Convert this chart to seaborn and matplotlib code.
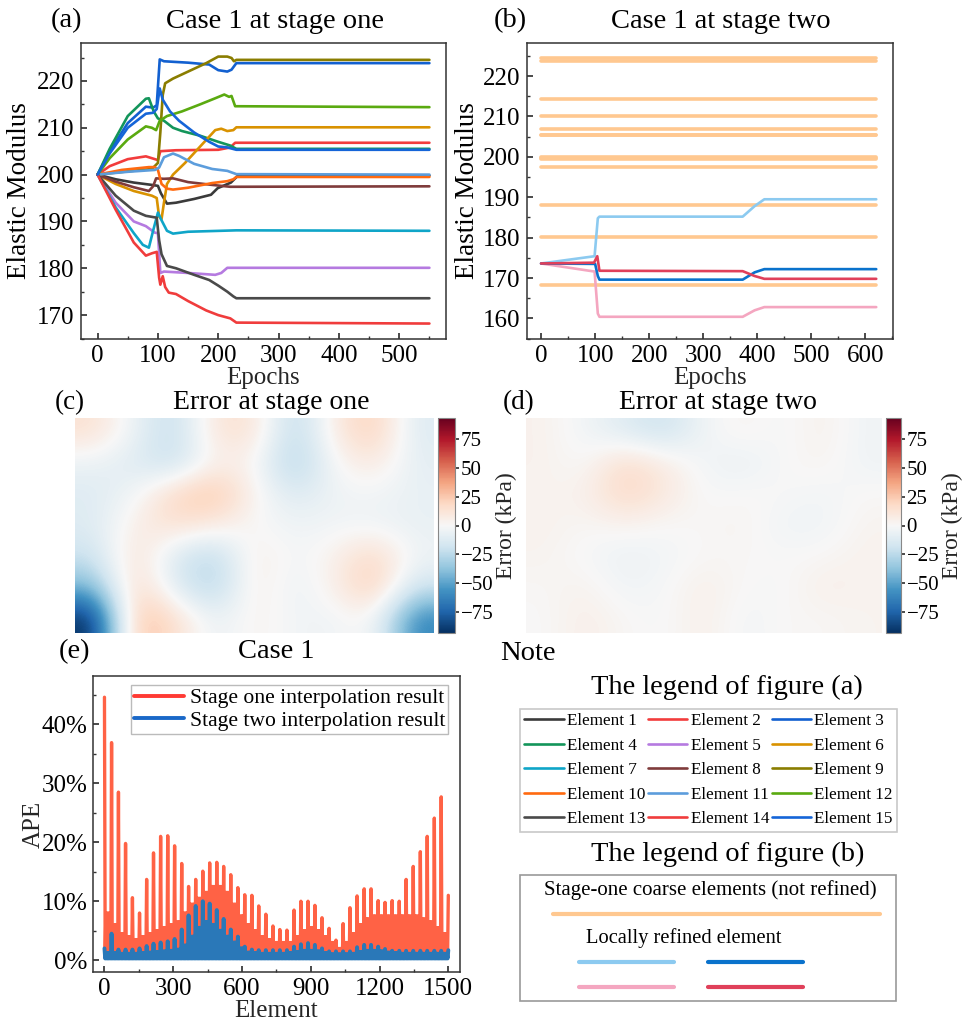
import numpy as np
import pandas as pd
import matplotlib
matplotlib.use("Agg")
import matplotlib.pyplot as plt
import seaborn as sns
from matplotlib.lines import Line2D
from matplotlib.patches import Rectangle
from matplotlib.ticker import MultipleLocator, FuncFormatter

# ---------------- (a) stage one training curves (epoch, modulus) ----------------
el01_x = [0, 30, 60, 90, 100, 105, 115, 130, 160, 188, 199, 221, 232, 550]
el01_y = [200, 199, 198.3, 197.8, 197.6, 196, 193.8, 194, 194.8, 195.7, 197.1, 198.3, 199.7, 199.8]
el02_x = [0, 20, 50, 80, 95, 100, 104, 130, 200, 220, 228, 550]
el02_y = [200, 201.8, 203.3, 203.9, 203.3, 203.1, 205, 205.2, 205.3, 205.8, 206.8, 206.8]
el03_x = [0, 20, 50, 80, 92, 98, 103, 110, 150, 185, 200, 215, 222, 230, 550]
el03_y = [200, 205, 211, 214.5, 214.3, 214.8, 224.6, 224.2, 223.9, 223.5, 222.3, 222, 222.4, 223.8, 223.8]
el04_x = [0, 20, 50, 80, 85, 93, 100, 110, 125, 140, 170, 200, 220, 230, 550]
el04_y = [200, 205.5, 212.5, 216.2, 216.3, 213.5, 212, 211.5, 210, 209.3, 208.3, 207, 206.2, 205.5, 205.5]
el05_x = [0, 30, 60, 80, 95, 100, 104, 110, 150, 195, 205, 215, 550]
el05_y = [200, 194, 190, 189, 187.6, 187.5, 179, 179.3, 179, 178.6, 179, 180.1, 180.1]
el06_x = [0, 30, 60, 90, 98, 102, 106, 110, 115, 125, 145, 170, 195, 205, 215, 225, 230, 550]
el06_y = [200, 198, 196.5, 195.5, 195, 191, 190.5, 194, 198, 200, 202.5, 206, 209.5, 209.8, 209.3, 209.5, 210.1, 210.1]
el07_x = [0, 30, 60, 75, 85, 92, 100, 105, 115, 125, 150, 230, 550]
el07_y = [200, 193, 187.5, 185, 184.4, 188, 191.9, 190.5, 188, 187.4, 187.8, 188.1, 188]
el08_x = [0, 30, 60, 85, 92, 97, 110, 125, 150, 190, 220, 550]
el08_y = [200, 198.5, 197.3, 196.5, 197.5, 199.2, 199.1, 199.2, 198.4, 197.8, 197.4, 197.5]
el09_x = [0, 50, 90, 100, 104, 108, 112, 125, 150, 180, 200, 215, 222, 226, 230, 550]
el09_y = [200, 200.7, 201.2, 202.5, 209, 217, 219.5, 220.5, 222, 223.8, 225.2, 225.2, 224.9, 224.2, 224.5, 224.5]
el10_x = [0, 40, 85, 95, 100, 106, 115, 125, 150, 190, 215, 225, 230, 550]
el10_y = [200, 201, 201.6, 201.6, 201, 198, 197, 196.8, 197.2, 198.2, 198.6, 199, 199.5, 199.5]
el11_x = [0, 50, 95, 102, 110, 125, 135, 160, 190, 215, 230, 550]
el11_y = [200, 200.6, 201, 201.5, 203.7, 204.5, 204, 202.3, 201.2, 200.8, 200.1, 200]
el12_x = [0, 20, 50, 80, 90, 97, 103, 115, 140, 170, 195, 210, 218, 222, 228, 550]
el12_y = [200, 203.5, 207.5, 210.3, 210, 209.5, 211.5, 212.5, 213.5, 215, 216.3, 217.1, 216.6, 216.8, 214.6, 214.4]
el13_x = [0, 30, 60, 80, 98, 102, 106, 115, 130, 160, 185, 200, 215, 225, 230, 550]
el13_y = [200, 195.5, 192.3, 191.2, 190.8, 186, 183, 180.5, 180, 178.6, 177.5, 176.3, 175, 174, 173.6, 173.6]
el14_x = [0, 30, 60, 80, 90, 98, 102, 104, 108, 112, 118, 130, 150, 180, 200, 220, 230, 550]
el14_y = [200, 192.5, 185.5, 182.7, 183.2, 183.5, 178, 176.5, 178.3, 176, 174.8, 174.5, 173, 171, 170, 169.3, 168.4, 168.2]
el15_x = [0, 20, 50, 80, 92, 98, 103, 108, 120, 135, 160, 185, 200, 215, 230, 550]
el15_y = [200, 204.5, 210, 213, 213.2, 214, 218.4, 216, 213.5, 211.5, 209, 207, 206, 205.8, 205.3, 205.3]

element_names = [f"Element {i}" for i in range(1, 16)]
element_colors = ["#3a3a3a", "#f23c3c", "#1260d0", "#13955a", "#b57ae0", "#d99200",
                  "#0fa5c8", "#7f3b3b", "#8a7d00", "#ff6a10", "#5c9ddc", "#5aaa10",
                  "#4a4a4a", "#f03c3c", "#1565d8"]

# ---------------- (b) stage two ----------------
coarse_epochs = [0, 620]
coarse_values = [224.5, 223.8, 214.4, 210.1, 206.8, 205.5, 205.3, 200.0, 199.8,
                 199.5, 197.5, 188.0, 180.1, 168.2]
ref_lblue_x = [0, 99, 105, 108, 373, 395, 413, 620]
ref_lblue_y = [173.6, 175.4, 184.8, 185.2, 185.2, 187.8, 189.5, 189.5]
ref_blue_x = [0, 100, 105, 108, 373, 395, 413, 620]
ref_blue_y = [173.6, 173.5, 170.5, 169.6, 169.6, 171.4, 172.2, 172.2]
ref_pink_x = [0, 99, 105, 108, 373, 395, 413, 620]
ref_pink_y = [173.6, 171.6, 161.2, 160.4, 160.4, 162.0, 162.8, 162.8]
ref_red_x = [0, 98, 104, 108, 373, 395, 413, 620]
ref_red_y = [173.6, 173.8, 175.4, 171.8, 171.7, 170.5, 169.8, 169.8]
refined_colors = ["#8ccaf0", "#0a72cc", "#f4a6c0", "#e0405a"]
coarse_color = "#ffc890"

# ---------------- (c)/(d) error fields, kPa (coarse grid) ----------------
err_stage_one = [
    [14, -6, -24, 12, 14, -28, 8, 24, -12],
    [-6, -12, -22, 5, 2, -32, 0, 10, -9],
    [-12, -3, 20, 30, 3, -14, -4, -3, -7],
    [-12, 6, 15, 8, 0, -4, -3, -4, -7],
    [-20, 16, -14, -28, 8, -3, 4, 20, -4],
    [-42, 22, -12, -30, 9, -7, 5, 26, -18],
    [-95, 32, 16, -8, 4, -3, -4, 3, -62],
]
err_stage_two = [
    [4, -3, -12, -20, -3, 3, -2, 5, -4],
    [4, -1, 18, 8, -3, -7, 0, 3, -4],
    [3, 4, 20, 10, -1, 1, 0, -3, 1],
    [4, 1, 3, 0, 1, 3, -4, -4, 3],
    [3, -1, -6, -3, 1, 1, 0, 1, 4],
    [1, 4, -4, -1, 6, 0, -1, 6, 3],
    [0, 6, 1, -1, 6, -3, 1, 1, 3],
]
cbar_ticks = [-75, -50, -25, 0, 25, 50, 75]

# ---------------- (e) APE per element ----------------
block_start = [0, 31, 61, 92, 122, 153, 184, 214, 245, 276, 306, 337, 367, 398, 429,
               459, 490, 520, 551, 582, 612, 643, 673, 704, 735, 765, 796, 827, 857,
               888, 918, 949, 980, 1010, 1041, 1071, 1102, 1133, 1163, 1194, 1224,
               1255, 1286, 1316, 1347, 1378, 1408, 1439, 1469, 1500]
ape_one_peak = [44.6, 36.9, 28.5, 19.8, 10.6, 8.0, 13.7, 18.2, 21.0, 21.1, 19.4, 16.4,
                12.5, 13.7, 15.1, 16.5, 16.6, 15.9, 14.5, 12.3, 11.1, 11.0, 9.2, 7.8,
                5.8, 5.2, 5.1, 8.5, 10.0, 10.0, 9.3, 7.2, 5.4, 3.4, 6.2, 8.9, 10.9,
                12.1, 12.1, 10.1, 9.8, 10.1, 10.0, 13.7, 15.9, 18.4, 21.0, 24.1, 27.7, 11.0]
ape_one_body = [8, 6, 4.5, 4, 3.5, 4, 4.5, 5, 5.5, 6, 6.5, 8, 9.5, 10.5, 11.5, 12.5,
                12.5, 11.5, 9.5, 7.5, 6, 5, 4, 3.5, 3, 3, 3, 4, 5, 5.5, 5, 4, 3, 2, 3,
                4.5, 6, 7, 7.5, 7.5, 7.5, 7.5, 7.5, 7.5, 7.5, 7, 6.5, 5.5, 4.5]
ape_two_peak = [2.0, 4.5, 1.8, 1.8, 1.8, 2.0, 2.4, 2.8, 3.0, 3.2, 3.6, 5.2, 7.6, 9.2,
                10.0, 9.6, 8.5, 7.0, 5.2, 4.0, 2.3, 1.8, 1.7, 1.7, 1.7, 1.7, 1.7, 2.3,
                2.7, 2.9, 2.6, 2.0, 1.5, 1.5, 1.5, 1.5, 2.2, 2.6, 2.6, 2.3, 1.9, 1.6,
                1.6, 1.6, 1.6, 1.6, 1.6, 1.6, 1.6, 1.7]
ape_two_body = [1.2, 1.2, 1.1, 1.1, 1.1, 1.2, 1.3, 1.4, 1.5, 1.6, 1.8, 2.5, 4, 5.5,
                6.5, 6, 5, 4, 3, 2, 1.3, 1.2, 1.1, 1.1, 1.1, 1.1, 1.2, 1.4, 1.6, 1.6,
                1.5, 1.2, 1.0, 1.0, 1.0, 1.1, 1.4, 1.6, 1.6, 1.5, 1.3, 1.2, 1.1, 1.1,
                1.1, 1.1, 1.1, 1.1, 1.1]
ape_one_low = 0.8
ape_two_low = 0.3


def saw(starts, peaks, bodies, low):
    # one sharp spike at each block start, then the in-block oscillation
    xs, ys = [], []
    for i, x0 in enumerate(starts):
        xs.append(x0)
        ys.append(peaks[i])
        if i < len(starts) - 1:
            step = (starts[i + 1] - x0) / 10
            for j in range(1, 10):
                xs.append(x0 + j * step)
                ys.append(low if j % 2 else bodies[i])
    return xs, ys


sns.set_theme(style="ticks", rc={
    "axes.edgecolor": "#333333", "axes.linewidth": 1.1,
    "xtick.direction": "in", "ytick.direction": "in",
    "xtick.color": "#333333", "ytick.color": "#333333",
    "xtick.major.size": 4.5, "ytick.major.size": 4.5,
    "xtick.minor.size": 2.5, "ytick.minor.size": 2.5,
})
plt.rcParams["font.family"] = ["Liberation Serif", "DejaVu Serif"]
plt.rcParams["text.color"] = "black"
plt.rcParams["xtick.labelcolor"] = "black"
plt.rcParams["ytick.labelcolor"] = "black"

W, H = 966, 1028
fig = plt.figure(figsize=(W / 100, H / 100), dpi=100)
fig.patch.set_facecolor("white")


def box(l, t, r, b):
    return fig.add_axes([l / W, 1 - b / H, (r - l) / W, (b - t) / H])


def put(x, y, s, size, **kw):
    fig.text(x / W, 1 - y / H, s, ha=kw.pop("ha", "center"), va="center", fontsize=size, **kw)


TICK = 18
LAB = 18
TIT = 20.5

# ---- (a)
ax_a = box(81, 43, 446, 339)
curves = [(el01_x, el01_y), (el02_x, el02_y), (el03_x, el03_y), (el04_x, el04_y),
          (el05_x, el05_y), (el06_x, el06_y), (el07_x, el07_y), (el08_x, el08_y),
          (el09_x, el09_y), (el10_x, el10_y), (el11_x, el11_y), (el12_x, el12_y),
          (el13_x, el13_y), (el14_x, el14_y), (el15_x, el15_y)]
for (xs, ys), c in zip(curves, element_colors):
    sns.lineplot(x=xs, y=ys, ax=ax_a, color=c, lw=1.9, sort=False, estimator=None, legend=False)
ax_a.set_xlim(-27.5, 577.5)
ax_a.set_ylim(164.9, 228.1)
ax_a.xaxis.set_major_locator(MultipleLocator(100))
ax_a.xaxis.set_minor_locator(MultipleLocator(50))
ax_a.yaxis.set_major_locator(MultipleLocator(10))
ax_a.yaxis.set_minor_locator(MultipleLocator(5))
ax_a.tick_params(labelsize=TICK, pad=5)
ax_a.tick_params(axis="x", pad=4)
ax_a.set_xlabel("Epochs", fontsize=LAB, labelpad=0)
ax_a.set_ylabel("")
put(20, 191, "Elastic Modulus", 19.5, rotation=90)
put(66, 21, "(a)", TIT)
put(275, 21, "Case 1 at stage one", TIT)

# ---- (b)
ax_b = box(527, 43, 893, 339)
for v in coarse_values:
    sns.lineplot(x=coarse_epochs, y=[v, v], ax=ax_b, color=coarse_color, lw=2.6,
                 estimator=None, legend=False)
for (xs, ys), c in zip([(ref_lblue_x, ref_lblue_y), (ref_pink_x, ref_pink_y),
                        (ref_blue_x, ref_blue_y), (ref_red_x, ref_red_y)],
                       [refined_colors[0], refined_colors[2], refined_colors[1], refined_colors[3]]):
    sns.lineplot(x=xs, y=ys, ax=ax_b, color=c, lw=1.9, sort=False, estimator=None, legend=False)
ax_b.set_xlim(-26, 651)
ax_b.set_ylim(154.9, 228.2)
ax_b.xaxis.set_major_locator(MultipleLocator(100))
ax_b.xaxis.set_minor_locator(MultipleLocator(50))
ax_b.yaxis.set_major_locator(MultipleLocator(10))
ax_b.yaxis.set_minor_locator(MultipleLocator(5))
ax_b.tick_params(labelsize=TICK, pad=5)
ax_b.tick_params(axis="x", pad=4)
ax_b.set_xlabel("Epochs", fontsize=LAB, labelpad=0)
ax_b.set_ylabel("")
put(467, 191, "Elastic Modulus", 19.5, rotation=90)
put(510, 21, "(b)", TIT)
put(721, 21, "Case 1 at stage two", TIT)

# ---- (c) / (d)
for grid, (l, r, cl, cr), letter, lx, title, tx in [
        (err_stage_one, (75, 434, 438, 455), "(c)", 70, "Error at stage one", 271),
        (err_stage_two, (526, 882, 886, 901), "(d)", 519, "Error at stage two", 718)]:
    ax = box(l, 418, r, 633)
    im = ax.imshow(np.array(grid, dtype=float), cmap="RdBu_r", vmin=-93, vmax=93,
                   interpolation="bicubic", aspect="auto")
    ax.set_axis_off()
    cax = box(cl, 418, cr, 633)
    cb = fig.colorbar(im, cax=cax)
    cb.set_ticks(cbar_ticks)
    cb.outline.set_edgecolor("#888888")
    cb.outline.set_linewidth(0.8)
    cax.tick_params(direction="out", length=3, labelsize=15, pad=1)
    cb.set_label("Error (kPa)", fontsize=17, labelpad=2)
    put(lx, 403, letter, TIT - 1)
    put(tx, 403, title, 20)

# ---- (e)
ax_e = box(93, 676, 460, 972)
rx, ry = saw(block_start, ape_one_peak, ape_one_body, ape_one_low)
bx, by = saw(block_start, ape_two_peak, ape_two_body, ape_two_low)
sns.lineplot(x=rx, y=ry, ax=ax_e, color="#ff6245", lw=2.4, sort=False, estimator=None, legend=False)
sns.lineplot(x=bx, y=by, ax=ax_e, color="#2a78b8", lw=2.8, sort=False, estimator=None, legend=False)
ax_e.set_xlim(-50, 1551)
ax_e.set_ylim(-2, 48.2)
ax_e.xaxis.set_major_locator(MultipleLocator(300))
ax_e.xaxis.set_minor_locator(MultipleLocator(150))
ax_e.yaxis.set_major_locator(MultipleLocator(10))
ax_e.yaxis.set_minor_locator(MultipleLocator(5))
ax_e.yaxis.set_major_formatter(FuncFormatter(lambda v, p: f"{v:.0f}%"))
ax_e.tick_params(labelsize=TICK, pad=4)
ax_e.tick_params(axis="x", pad=4)
ax_e.set_xlabel("Element", fontsize=LAB, labelpad=0)
ax_e.set_ylabel("APE", fontsize=LAB, labelpad=-2)
leg_e = ax_e.legend(
    handles=[Line2D([], [], color="#ff3a33", lw=2.8), Line2D([], [], color="#1a68c8", lw=2.8)],
    labels=["Stage one interpolation result", "Stage two interpolation result"],
    loc="upper right", bbox_to_anchor=(0.968, 0.97), fontsize=15.6, handlelength=2.3,
    handletextpad=0.25, labelspacing=0.1, borderpad=0.15, borderaxespad=0,
    frameon=True, fancybox=False, edgecolor="#aaaaaa")
leg_e.get_frame().set_linewidth(1.0)
put(75, 652, "(e)", TIT)
put(276, 652, "Case 1", TIT)

# ---- legends panel
put(500, 653, "Note", TIT, ha="left")
put(727, 687, "The legend of figure (a)", TIT)
hand = ax_a.lines[:15]
order = [0, 3, 6, 9, 12, 1, 4, 7, 10, 13, 2, 5, 8, 11, 14]
leg_a = fig.legend([hand[i] for i in order], [element_names[i] for i in order], ncol=3,
                   loc="upper left", bbox_to_anchor=(520 / W, 1 - 709 / H), fontsize=12.3,
                   handlelength=2.3, handletextpad=0.2, columnspacing=0.15,
                   labelspacing=0.5, borderpad=0.25, borderaxespad=0, frameon=True,
                   fancybox=False, edgecolor="#bbbbbb")
leg_a.get_frame().set_linewidth(1.2)

put(728, 854, "The legend of figure (b)", TIT)
ax_f = fig.add_axes([483 / W, 0, 483 / W, 388 / H])
ax_f.set_xlim(483, 966)
ax_f.set_ylim(1028, 640)
ax_f.set_axis_off()
ax_f.add_patch(Rectangle((520, 875), 376, 126, fill=False, edgecolor="#999999", lw=1.2))
ax_f.text(710, 890, "Stage-one coarse elements (not refined)", ha="center", va="center", fontsize=15)
ax_f.plot([553, 880], [914, 914], color=coarse_color, lw=3, solid_capstyle="round")
ax_f.text(586, 938, "Locally refined element", ha="left", va="center", fontsize=14.8)
for (x0, x1, y), c in zip([(579, 674, 962), (708, 803, 962), (579, 674, 987), (708, 803, 987)],
                          refined_colors):
    ax_f.plot([x0, x1], [y, y], color=c, lw=3, solid_capstyle="round")

fig.savefig("out.png", dpi=100)
